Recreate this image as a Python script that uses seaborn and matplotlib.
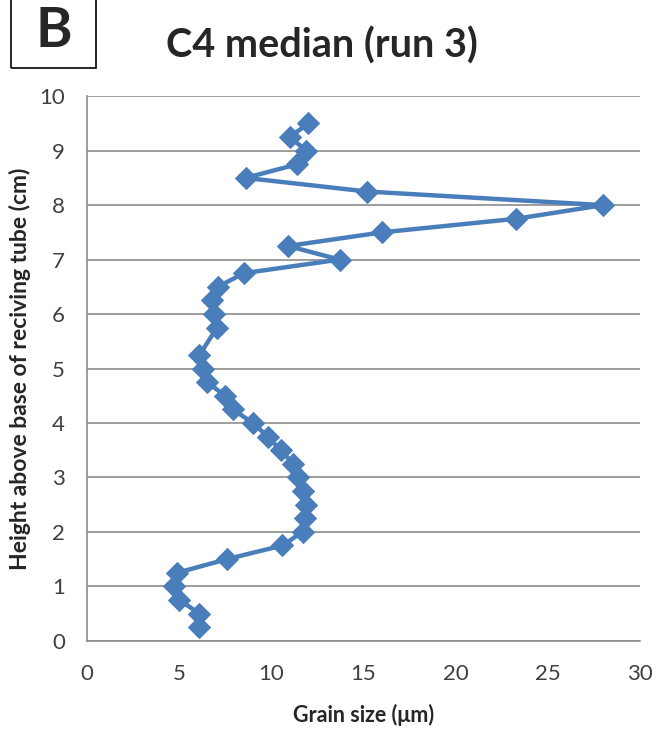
import matplotlib
matplotlib.use("Agg")
import matplotlib.pyplot as plt
import seaborn as sns
import pandas as pd
from matplotlib.patches import Rectangle

height_cm = [0.25, 0.5, 0.75, 1.0, 1.25, 1.5, 1.75, 2.0, 2.25, 2.5, 2.75, 3.0, 3.25,
             3.5, 3.75, 4.0, 4.25, 4.5, 4.75, 5.0, 5.25, 5.75, 6.0, 6.25, 6.5, 6.75,
             7.0, 7.25, 7.5, 7.75, 8.0, 8.25, 8.5, 8.75, 9.0, 9.25, 9.5]
grain_um = [6.1, 6.1, 5.0, 4.7, 4.9, 7.6, 10.6, 11.7, 11.8, 11.9, 11.7, 11.45, 11.2,
            10.5, 9.8, 9.0, 7.9, 7.5, 6.5, 6.3, 6.1, 7.05, 6.9, 6.8, 7.1, 8.5,
            13.7, 10.9, 16.0, 23.3, 28.0, 15.2, 8.6, 11.4, 11.9, 11.0, 12.0]

df = pd.DataFrame({"grain": grain_um, "height": height_cm})

sns.set_style("white")
plt.rcParams["font.family"] = ["Lato", "DejaVu Sans"]

fig = plt.figure(figsize=(6.7, 7.29), dpi=100)
ax = fig.add_axes([0.13, 0.121, 0.825, 0.747])

blue = "#4A7EBB"
sns.lineplot(data=df, x="grain", y="height", sort=False, estimator=None, ax=ax,
             color=blue, linewidth=3.2, marker="D", markersize=11,
             markeredgecolor=blue, markerfacecolor=blue)

ax.set_xlim(0, 30)
ax.set_ylim(0, 10)
ax.set_xticks(range(0, 31, 5))
ax.set_yticks(range(0, 11, 1))
ax.yaxis.grid(True, color="#8C8C8C", linewidth=1.2)
ax.xaxis.grid(False)
for s in ["top", "right"]:
    ax.spines[s].set_visible(False)
for s in ["left", "bottom"]:
    ax.spines[s].set_color("#8C8C8C")
    ax.spines[s].set_linewidth(1.2)
ax.tick_params(axis="both", labelsize=16, colors="#8C8C8C", labelcolor="#404040", length=0)
ax.tick_params(axis="x", pad=17)
ax.tick_params(axis="y", pad=16)

ax.set_xlabel("Grain size (μm)", fontsize=15.5, fontweight="bold", labelpad=14)
ax.set_ylabel("Height above base of reciving tube (cm)", fontsize=16.5, fontweight="bold", labelpad=6)

fig.text(0.48, 0.938, "C4 median (run 3)", fontsize=28.5, fontweight="bold", ha="center", va="center")
fig.patches.append(Rectangle((0.016, 0.907), 0.128, 0.1, transform=fig.transFigure,
                             fill=False, edgecolor="black", linewidth=1.2))
fig.text(0.08, 0.958, "B", fontsize=40, fontweight="bold", ha="center", va="center")

fig.savefig("out.png", dpi=100)
